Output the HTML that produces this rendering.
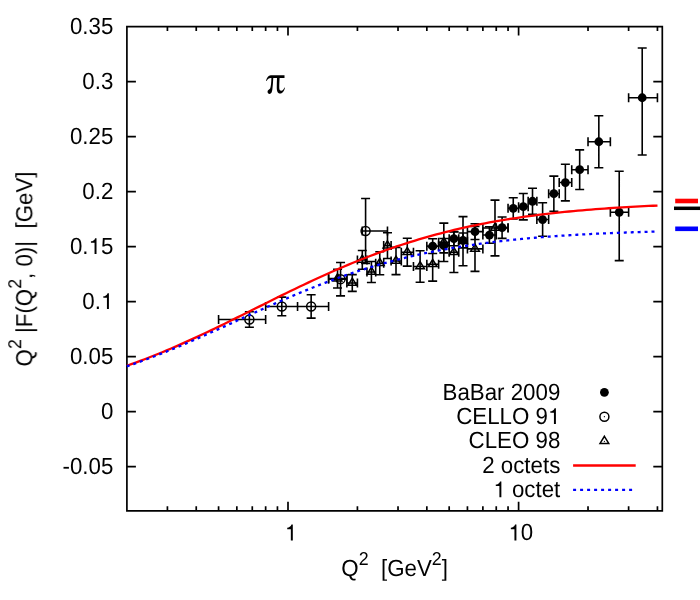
<!DOCTYPE html>
<html><head><meta charset="utf-8"><title>chart</title>
<style>html,body{margin:0;padding:0;background:#fff}svg{display:block}text{text-rendering:geometricPrecision;font-family:"Liberation Sans",sans-serif;font-size:22.3px;fill:#000}</style>
</head><body>
<svg width="700" height="600" viewBox="0 0 700 600">
<rect width="700" height="600" fill="#fff"/>
<path d="M126.9 26.6H662.3V510.85H126.9ZM126.9 466.7h9M662.3 466.7h-9M126.9 411.7h9M662.3 411.7h-9M126.9 356.7h9M662.3 356.7h-9M126.9 301.7h9M662.3 301.7h-9M126.9 246.7h9M662.3 246.7h-9M126.9 191.7h9M662.3 191.7h-9M126.9 136.7h9M662.3 136.7h-9M126.9 81.7h9M662.3 81.7h-9M167.42 510.85v-4.5M167.42 26.6v4.5M196.24 510.85v-4.5M196.24 26.6v4.5M218.58 510.85v-4.5M218.58 26.6v4.5M236.84 510.85v-4.5M236.84 26.6v4.5M252.28 510.85v-4.5M252.28 26.6v4.5M265.65 510.85v-4.5M265.65 26.6v4.5M277.45 510.85v-4.5M277.45 26.6v4.5M288 510.85v-9M288 26.6v9M357.42 510.85v-4.5M357.42 26.6v4.5M398.02 510.85v-4.5M398.02 26.6v4.5M426.84 510.85v-4.5M426.84 26.6v4.5M449.18 510.85v-4.5M449.18 26.6v4.5M467.44 510.85v-4.5M467.44 26.6v4.5M482.88 510.85v-4.5M482.88 26.6v4.5M496.25 510.85v-4.5M496.25 26.6v4.5M508.05 510.85v-4.5M508.05 26.6v4.5M518.6 510.85v-9M518.6 26.6v9M588.02 510.85v-4.5M588.02 26.6v4.5M628.62 510.85v-4.5M628.62 26.6v4.5M657.44 510.85v-4.5M657.44 26.6v4.5" fill="none" stroke="#000" stroke-width="1.7" stroke-linejoin="miter"/>
<path d="M432.67 238.78V253.52M428.17 238.78h9.0M428.17 253.52h9.0M426.84 246.15H438.63M426.84 241.65v9.0M438.63 241.65v9.0M443.83 238.56V252.86M439.33 238.56h9.0M439.33 252.86h9.0M438.63 245.71H449.18M438.63 241.21v9.0M449.18 241.21v9.0M453.88 231.52V245.82M449.38 231.52h9.0M449.38 245.82h9.0M449.18 238.67H458.73M449.18 234.17v9.0M458.73 234.17v9.0M463.01 232.95V247.91M458.51 232.95h9.0M458.51 247.91h9.0M458.73 240.43H467.44M458.73 235.93v9.0M467.44 235.93v9.0M474.99 223.82V239.44M470.49 223.82h9.0M470.49 239.44h9.0M467.44 231.63H482.88M467.44 227.13v9.0M482.88 227.13v9.0M489.39 226.79V243.29M484.89 226.79h9.0M484.89 243.29h9.0M482.88 235.04H496.25M482.88 230.54v9.0M496.25 230.54v9.0M502.09 217V238.34M497.59 217h9.0M497.59 238.34h9.0M496.25 227.67H508.05M496.25 223.17v9.0M508.05 223.17v9.0M513.25 197.75V218.87M508.75 197.75h9.0M508.75 218.87h9.0M508.05 208.31H518.6M508.05 203.81v9.0M518.6 203.81v9.0M523.3 193.46V219.86M518.8 193.46h9.0M518.8 219.86h9.0M518.6 206.66H528.15M518.6 202.16v9.0M528.15 202.16v9.0M532.51 188.29V214.25M528.01 188.29h9.0M528.01 214.25h9.0M528.15 201.27H536.86M528.15 196.77v9.0M536.86 196.77v9.0M542.62 202.81V236.25M538.12 202.81h9.0M538.12 236.25h9.0M536.86 219.53H548.65M536.86 215.03v9.0M548.65 215.03v9.0M553.86 176.08V211.28M549.36 176.08h9.0M549.36 211.28h9.0M548.65 193.68H559.21M548.65 189.18v9.0M559.21 189.18v9.0M565.36 164.31V200.83M560.86 164.31h9.0M560.86 200.83h9.0M559.21 182.57H571.74M559.21 178.07v9.0M571.74 178.07v9.0M579.67 149.9V189.5M575.17 149.9h9.0M575.17 189.5h9.0M571.74 169.7H588.02M571.74 165.2v9.0M588.02 165.2v9.0M598.83 115.8V167.72M594.33 115.8h9.0M594.33 167.72h9.0M588.02 141.76H610.36M588.02 137.26v9.0M610.36 137.26v9.0M619.22 171.24V260.67M614.72 171.24h9.0M614.72 260.67h9.0M610.36 212.27H628.62M610.36 207.77v9.0M628.62 207.77v9.0M642.21 47.93V154.96M637.71 47.93h9.0M637.71 154.96h9.0M628.62 97.76H657.44M628.62 93.26v9.0M657.44 93.26v9.0" fill="none" stroke="#000" stroke-width="1.6"/>
<circle cx="432.67" cy="246.15" r="4.4" fill="#000"/>
<circle cx="443.83" cy="245.71" r="4.4" fill="#000"/>
<circle cx="453.88" cy="238.67" r="4.4" fill="#000"/>
<circle cx="463.01" cy="240.43" r="4.4" fill="#000"/>
<circle cx="474.99" cy="231.63" r="4.4" fill="#000"/>
<circle cx="489.39" cy="235.04" r="4.4" fill="#000"/>
<circle cx="502.09" cy="227.67" r="4.4" fill="#000"/>
<circle cx="513.25" cy="208.31" r="4.4" fill="#000"/>
<circle cx="523.3" cy="206.66" r="4.4" fill="#000"/>
<circle cx="532.51" cy="201.27" r="4.4" fill="#000"/>
<circle cx="542.62" cy="219.53" r="4.4" fill="#000"/>
<circle cx="553.86" cy="193.68" r="4.4" fill="#000"/>
<circle cx="565.36" cy="182.57" r="4.4" fill="#000"/>
<circle cx="579.67" cy="169.7" r="4.4" fill="#000"/>
<circle cx="598.83" cy="141.76" r="4.4" fill="#000"/>
<circle cx="619.22" cy="212.27" r="4.4" fill="#000"/>
<circle cx="642.21" cy="97.76" r="4.4" fill="#000"/>
<path d="M249.38 311.82V327.22M244.88 311.82h9.0M244.88 327.22h9.0M218.58 319.52H265.65M218.58 315.02v9.0M265.65 315.02v9.0M281.8 297.08V315.78M277.3 297.08h9.0M277.3 315.78h9.0M265.65 306.43H297.55M265.65 301.93v9.0M297.55 301.93v9.0M311.15 294.77V318.09M306.65 294.77h9.0M306.65 318.09h9.0M297.55 306.43H328.61M297.55 301.93v9.0M328.61 301.93v9.0M340.55 262.43V295.87M336.05 262.43h9.0M336.05 295.87h9.0M328.61 279.15H346.87M328.61 274.65v9.0M346.87 274.65v9.0M365.59 198.52V263.42M361.09 198.52h9.0M361.09 263.42h9.0M362.3 230.97H387.47M362.3 226.47v9.0M387.47 226.47v9.0" fill="none" stroke="#000" stroke-width="1.6"/>
<circle cx="249.38" cy="319.52" r="4.5" fill="none" stroke="#000" stroke-width="1.5"/><circle cx="249.38" cy="319.52" r="0.65" fill="#000"/>
<circle cx="281.8" cy="306.43" r="4.5" fill="none" stroke="#000" stroke-width="1.5"/><circle cx="281.8" cy="306.43" r="0.65" fill="#000"/>
<circle cx="311.15" cy="306.43" r="4.5" fill="none" stroke="#000" stroke-width="1.5"/><circle cx="311.15" cy="306.43" r="0.65" fill="#000"/>
<circle cx="340.55" cy="279.15" r="4.5" fill="none" stroke="#000" stroke-width="1.5"/><circle cx="340.55" cy="279.15" r="0.65" fill="#000"/>
<circle cx="365.59" cy="230.97" r="4.5" fill="none" stroke="#000" stroke-width="1.5"/><circle cx="365.59" cy="230.97" r="0.65" fill="#000"/>
<path d="M337.54 269.2V288M333.04 269.2h9.0M333.04 288h9.0M328.61 278.6H346.87M328.61 274.1v9.0M346.87 274.1v9.0M352.28 274.62V291.38M347.78 274.62h9.0M347.78 291.38h9.0M346.87 283H357.42M346.87 278.5v9.0M357.42 278.5v9.0M362.3 250.5V269.3M357.8 250.5h9.0M357.8 269.3h9.0M357.42 259.9H366.96M357.42 255.4v9.0M366.96 255.4v9.0M371.41 261.56V282.44M366.91 261.56h9.0M366.91 282.44h9.0M366.96 272H375.68M366.96 267.5v9.0M375.68 267.5v9.0M379.76 251.72V274.68M375.26 251.72h9.0M375.26 274.68h9.0M375.68 263.2H383.69M375.68 258.7v9.0M383.69 258.7v9.0M387.47 232.72V258.48M382.97 232.72h9.0M382.97 258.48h9.0M383.69 245.6H391.11M383.69 241.1v9.0M391.11 241.1v9.0M396 247.39V274.61M391.5 247.39h9.0M391.5 274.61h9.0M391.11 261H401.31M391.11 256.5v9.0M401.31 256.5v9.0M407.27 238.29V266.11M402.77 238.29h9.0M402.77 266.11h9.0M401.31 252.2H413.46M401.31 247.7v9.0M413.46 247.7v9.0M420.1 250.75V282.25M415.6 250.75h9.0M415.6 282.25h9.0M413.46 266.5H426.84M413.46 262v9.0M426.84 262v9.0M432.67 247.47V281.13M428.17 247.47h9.0M428.17 281.13h9.0M426.84 264.3H438.63M426.84 259.8v9.0M438.63 259.8v9.0M443.83 223.09V261.51M439.33 223.09h9.0M439.33 261.51h9.0M438.63 242.3H449.18M438.63 237.8v9.0M449.18 237.8v9.0M453.88 231.92V272.48M449.38 231.92h9.0M449.38 272.48h9.0M449.18 252.2H458.73M449.18 247.7v9.0M458.73 247.7v9.0M463.01 216.6V265.8M458.51 216.6h9.0M458.51 265.8h9.0M458.73 241.2H467.44M458.73 236.7v9.0M467.44 236.7v9.0M474.99 226.46V271.34M470.49 226.46h9.0M470.49 271.34h9.0M467.44 248.9H482.88M467.44 244.4v9.0M482.88 244.4v9.0M494.99 200.15V255.85M490.49 200.15h9.0M490.49 255.85h9.0M482.88 228H508.05M482.88 223.5v9.0M508.05 223.5v9.0" fill="none" stroke="#000" stroke-width="1.6"/>
<path d="M337.54 273.8L341.89 280.9H333.19Z" fill="none" stroke="#000" stroke-width="1.5" stroke-linejoin="miter"/><circle cx="337.54" cy="278.8" r="0.65" fill="#000"/>
<path d="M352.28 278.2L356.63 285.3H347.93Z" fill="none" stroke="#000" stroke-width="1.5" stroke-linejoin="miter"/><circle cx="352.28" cy="283.2" r="0.65" fill="#000"/>
<path d="M362.3 255.1L366.65 262.2H357.95Z" fill="none" stroke="#000" stroke-width="1.5" stroke-linejoin="miter"/><circle cx="362.3" cy="260.1" r="0.65" fill="#000"/>
<path d="M371.41 267.2L375.76 274.3H367.06Z" fill="none" stroke="#000" stroke-width="1.5" stroke-linejoin="miter"/><circle cx="371.41" cy="272.2" r="0.65" fill="#000"/>
<path d="M379.76 258.4L384.11 265.5H375.41Z" fill="none" stroke="#000" stroke-width="1.5" stroke-linejoin="miter"/><circle cx="379.76" cy="263.4" r="0.65" fill="#000"/>
<path d="M387.47 240.8L391.82 247.9H383.12Z" fill="none" stroke="#000" stroke-width="1.5" stroke-linejoin="miter"/><circle cx="387.47" cy="245.8" r="0.65" fill="#000"/>
<path d="M396 256.2L400.35 263.3H391.65Z" fill="none" stroke="#000" stroke-width="1.5" stroke-linejoin="miter"/><circle cx="396" cy="261.2" r="0.65" fill="#000"/>
<path d="M407.27 247.4L411.62 254.5H402.92Z" fill="none" stroke="#000" stroke-width="1.5" stroke-linejoin="miter"/><circle cx="407.27" cy="252.4" r="0.65" fill="#000"/>
<path d="M420.1 261.7L424.45 268.8H415.75Z" fill="none" stroke="#000" stroke-width="1.5" stroke-linejoin="miter"/><circle cx="420.1" cy="266.7" r="0.65" fill="#000"/>
<path d="M432.67 259.5L437.02 266.6H428.32Z" fill="none" stroke="#000" stroke-width="1.5" stroke-linejoin="miter"/><circle cx="432.67" cy="264.5" r="0.65" fill="#000"/>
<path d="M443.83 237.5L448.18 244.6H439.48Z" fill="none" stroke="#000" stroke-width="1.5" stroke-linejoin="miter"/><circle cx="443.83" cy="242.5" r="0.65" fill="#000"/>
<path d="M453.88 247.4L458.23 254.5H449.53Z" fill="none" stroke="#000" stroke-width="1.5" stroke-linejoin="miter"/><circle cx="453.88" cy="252.4" r="0.65" fill="#000"/>
<path d="M463.01 236.4L467.36 243.5H458.66Z" fill="none" stroke="#000" stroke-width="1.5" stroke-linejoin="miter"/><circle cx="463.01" cy="241.4" r="0.65" fill="#000"/>
<path d="M474.99 244.1L479.34 251.2H470.64Z" fill="none" stroke="#000" stroke-width="1.5" stroke-linejoin="miter"/><circle cx="474.99" cy="249.1" r="0.65" fill="#000"/>
<path d="M494.99 223.2L499.34 230.3H490.64Z" fill="none" stroke="#000" stroke-width="1.5" stroke-linejoin="miter"/><circle cx="494.99" cy="228.2" r="0.65" fill="#000"/>
<path d="M126.9 365.73L131.32 364.17L135.74 362.56L140.17 360.92L144.59 359.24L149.01 357.53L153.43 355.79L157.85 354.01L162.27 352.2L166.69 350.35L171.12 348.47L175.54 346.57L179.96 344.63L184.38 342.67L188.8 340.67L193.23 338.66L197.65 336.62L202.07 334.55L206.49 332.46L210.91 330.36L215.33 328.23L219.75 326.09L224.18 323.94L228.6 321.77L233.02 319.59L237.44 317.4L241.86 315.2L246.29 313L250.71 310.8L255.13 308.59L259.55 306.38L263.97 304.17L268.39 301.97L272.81 299.77L277.24 297.58L281.66 295.4L286.08 293.24L290.5 291.08L294.92 288.94L299.35 286.81L303.77 284.7L308.19 282.61L312.61 280.54L317.03 278.49L321.45 276.47L325.88 274.47L330.3 272.49L334.72 270.54L339.14 268.62L343.56 266.73L347.98 264.86L352.41 263.03L356.83 261.22L361.25 259.45L365.67 257.71L370.09 256L374.51 254.33L378.94 252.69L383.36 251.08L387.78 249.51L392.2 247.97L396.62 246.46L401.04 244.99L405.47 243.55L409.89 242.15L414.31 240.78L418.73 239.45L423.15 238.14L427.57 236.88L432 235.64L436.42 234.44L440.84 233.28L445.26 232.14L449.68 231.04L454.1 229.97L458.52 228.93L462.95 227.92L467.37 226.94L471.79 225.99L476.21 225.08L480.63 224.18L485.05 223.32L489.48 222.49L493.9 221.68L498.32 220.9L502.74 220.14L507.16 219.41L511.59 218.71L516.01 218.03L520.43 217.37L524.85 216.73L529.27 216.12L533.69 215.53L538.12 214.96L542.54 214.41L546.96 213.88L551.38 213.37L555.8 212.88L560.22 212.41L564.64 211.95L569.07 211.51L573.49 211.09L577.91 210.68L582.33 210.29L586.75 209.92L591.17 209.55L595.6 209.21L600.02 208.87L604.44 208.55L608.86 208.24L613.28 207.95L617.71 207.66L622.13 207.39L626.55 207.12L630.97 206.87L635.39 206.63L639.81 206.4L644.24 206.17L648.66 205.96L653.08 205.75L657.5 205.56" fill="none" stroke="#f00" stroke-width="2.3"/>
<path d="M126.9 366.33L128.22 365.88L129.54 365.43L130.86 364.97L132.18 364.51L133.5 364.05L134.82 363.58L136.14 363.11L137.46 362.64L138.78 362.16L140.1 361.69L141.42 361.21L142.74 360.72L144.06 360.24L145.38 359.75L146.7 359.26L148.02 358.76L149.34 358.26L150.66 357.76L151.98 357.26L153.31 356.76L154.63 356.25L155.95 355.74L157.27 355.22L158.59 354.71L159.91 354.19L161.23 353.67L162.55 353.15L163.87 352.62L165.19 352.09L166.51 351.56L167.83 351.03L169.15 350.49L170.47 349.95L171.79 349.41L173.11 348.87L174.43 348.32L175.75 347.78L177.07 347.23L178.39 346.68L179.71 346.12L181.03 345.57L182.35 345.01L183.67 344.45L184.99 343.89L186.31 343.32L187.63 342.76L188.95 342.19L190.27 341.62L191.59 341.05L192.91 340.48L194.23 339.91L195.55 339.33L196.87 338.75L198.19 338.17L199.51 337.59L200.83 337.01L202.15 336.43L203.47 335.84L204.79 335.26L206.12 334.67L207.44 334.08L208.76 333.49L210.08 332.9L211.4 332.31L212.72 331.72L214.04 331.12L215.36 330.53L216.68 329.93L218 329.34L219.32 328.74L220.64 328.14L221.96 327.54L223.28 326.94L224.6 326.34L225.92 325.74L227.24 325.14L228.56 324.54L229.88 323.94L231.2 323.34L232.52 322.73L233.84 322.13L235.16 321.53L236.48 320.93L237.8 320.32L239.12 319.72L240.44 319.12L241.76 318.51L243.08 317.91L244.4 317.31L245.72 316.71L247.04 316.11L248.36 315.5L249.68 314.9L251 314.3L252.32 313.7L253.64 313.1L254.96 312.5L256.28 311.91L257.6 311.31L258.93 310.71L260.25 310.11L261.57 309.52L262.89 308.93L264.21 308.33L265.53 307.74L266.85 307.15L268.17 306.56L269.49 305.97L270.81 305.38L272.13 304.8L273.45 304.21L274.77 303.63L276.09 303.05L277.41 302.46L278.73 301.89L280.05 301.31L281.37 300.73L282.69 300.16L284.01 299.58L285.33 299.01L286.65 298.44L287.97 297.87L289.29 297.31L290.61 296.74L291.93 296.18L293.25 295.62L294.57 295.06L295.89 294.51L297.21 293.95L298.53 293.4L299.85 292.85L301.17 292.3L302.49 291.76L303.81 291.22L305.13 290.67L306.45 290.14L307.77 289.6L309.09 289.06L310.41 288.53L311.74 288L313.06 287.48L314.38 286.95L315.7 286.43L317.02 285.91L318.34 285.4L319.66 284.88L320.98 284.37L322.3 283.86L323.62 283.35L324.94 282.85L326.26 282.35L327.58 281.85L328.9 281.36L330.22 280.86L331.54 280.37L332.86 279.89L334.18 279.4L335.5 278.92L336.82 278.44L338.14 277.97L339.46 277.5L340.78 277.03L342.1 276.56L343.42 276.09L344.74 275.63L346.06 275.18L347.38 274.72L348.7 274.27L350.02 273.82L351.34 273.37L352.66 272.93L353.98 272.49L355.3 272.05L356.62 271.62L357.94 271.19L359.26 270.76L360.58 270.33L361.9 269.91L363.22 269.49L364.55 269.08L365.87 268.67L367.19 268.26L368.51 267.85L369.83 267.45L371.15 267.04L372.47 266.65L373.79 266.25L375.11 265.86L376.43 265.47L377.75 265.09L379.07 264.71L380.39 264.33L381.71 263.95L383.03 263.58L384.35 263.21L385.67 262.84L386.99 262.48L388.31 262.12L389.63 261.76L390.95 261.4L392.27 261.05L393.59 260.7L394.91 260.36L396.23 260.01L397.55 259.67L398.87 259.34L400.19 259L401.51 258.67L402.83 258.34L404.15 258.02L405.47 257.69L406.79 257.37L408.11 257.06L409.43 256.74L410.75 256.43L412.07 256.12L413.39 255.82L414.71 255.52L416.03 255.22L417.36 254.92L418.68 254.63L420 254.34L421.32 254.05L422.64 253.76L423.96 253.48L425.28 253.2L426.6 252.92L427.92 252.64L429.24 252.37L430.56 252.1L431.88 251.84L433.2 251.57L434.52 251.31L435.84 251.05L437.16 250.79L438.48 250.54L439.8 250.29L441.12 250.04L442.44 249.79L443.76 249.55L445.08 249.31L446.4 249.07L447.72 248.83L449.04 248.6L450.36 248.36L451.68 248.14L453 247.91L454.32 247.68L455.64 247.46L456.96 247.24L458.28 247.02L459.6 246.81L460.92 246.59L462.24 246.38L463.56 246.17L464.88 245.97L466.2 245.76L467.52 245.56L468.84 245.36L470.16 245.16L471.49 244.97L472.81 244.77L474.13 244.58L475.45 244.39L476.77 244.21L478.09 244.02L479.41 243.84L480.73 243.66L482.05 243.48L483.37 243.3L484.69 243.12L486.01 242.95L487.33 242.78L488.65 242.61L489.97 242.44L491.29 242.28L492.61 242.11L493.93 241.95L495.25 241.79L496.57 241.63L497.89 241.47L499.21 241.32L500.53 241.17L501.85 241.02L503.17 240.87L504.49 240.72L505.81 240.57L507.13 240.43L508.45 240.28L509.77 240.14L511.09 240L512.41 239.86L513.73 239.73L515.05 239.59L516.37 239.46L517.69 239.33L519.01 239.2L520.33 239.07L521.65 238.94L522.98 238.81L524.3 238.69L525.62 238.57L526.94 238.45L528.26 238.33L529.58 238.21L530.9 238.09L532.22 237.97L533.54 237.86L534.86 237.75L536.18 237.63L537.5 237.52L538.82 237.41L540.14 237.31L541.46 237.2L542.78 237.09L544.1 236.99L545.42 236.89L546.74 236.79L548.06 236.69L549.38 236.59L550.7 236.49L552.02 236.39L553.34 236.3L554.66 236.2L555.98 236.11L557.3 236.02L558.62 235.92L559.94 235.83L561.26 235.74L562.58 235.66L563.9 235.57L565.22 235.48L566.54 235.4L567.86 235.32L569.18 235.23L570.5 235.15L571.82 235.07L573.14 234.99L574.46 234.91L575.78 234.83L577.11 234.76L578.43 234.68L579.75 234.61L581.07 234.53L582.39 234.46L583.71 234.39L585.03 234.32L586.35 234.25L587.67 234.18L588.99 234.11L590.31 234.04L591.63 233.97L592.95 233.91L594.27 233.84L595.59 233.78L596.91 233.71L598.23 233.65L599.55 233.59L600.87 233.53L602.19 233.47L603.51 233.41L604.83 233.35L606.15 233.29L607.47 233.23L608.79 233.17L610.11 233.12L611.43 233.06L612.75 233.01L614.07 232.95L615.39 232.9L616.71 232.85L618.03 232.79L619.35 232.74L620.67 232.69L621.99 232.64L623.31 232.59L624.63 232.54L625.95 232.49L627.27 232.45L628.6 232.4L629.92 232.35L631.24 232.31L632.56 232.26L633.88 232.22L635.2 232.17L636.52 232.13L637.84 232.08L639.16 232.04L640.48 232L641.8 231.96L643.12 231.92L644.44 231.88L645.76 231.84L647.08 231.8L648.4 231.76L649.72 231.72L651.04 231.68L652.36 231.64L653.68 231.61L655 231.57" fill="none" stroke="#00f" stroke-width="2.3" stroke-dasharray="3 3.93" stroke-dashoffset="0.2"/>
<path d="M675.2 201H698" stroke="#f00" stroke-width="4.6"/>
<path d="M674 208.3H700" stroke="#000" stroke-width="3.5"/>
<path d="M675.2 228.8H698" stroke="#00f" stroke-width="4.6"/>
<circle cx="604.4" cy="392.3" r="4.4" fill="#000"/>
<circle cx="604.4" cy="416.7" r="4.5" fill="none" stroke="#000" stroke-width="1.5"/><circle cx="604.4" cy="416.7" r="0.65" fill="#000"/>
<path d="M604.4 436.3L608.75 443.4H600.05Z" fill="none" stroke="#000" stroke-width="1.5" stroke-linejoin="miter"/><circle cx="604.4" cy="441.3" r="0.65" fill="#000"/>
<path d="M573.1 465.5H635.7" stroke="#f00" stroke-width="2.3"/>
<path d="M573.1 489.9H633" stroke="#00f" stroke-width="2.3" stroke-dasharray="3 4"/>
<path d="M555.91 424L553.94 424L553.94 412.74L550.33 412.74L550.33 411.33C552.14 411.18 553.81 410.4 554.59 408.19L555.91 408.19Z" fill="#000"/>
<path d="M501.36 497.2L499.4 497.2L499.4 485.94L495.79 485.94L495.79 484.53C497.59 484.38 499.26 483.6 500.05 481.39L501.36 481.39Z" fill="#000"/>
<path d="M108.91 309L106.94 309L106.94 297.74L103.33 297.74L103.33 296.33C105.14 296.18 106.81 295.4 107.59 293.19L108.91 293.19Z" fill="#000"/>
<path d="M96.51 254L94.55 254L94.55 242.74L90.93 242.74L90.93 241.33C92.74 241.18 94.41 240.4 95.19 238.19L96.51 238.19Z" fill="#000"/>
<path d="M292.81 540.4L290.84 540.4L290.84 529.14L287.23 529.14L287.23 527.73C289.04 527.58 290.71 526.8 291.49 524.59L292.81 524.59Z" fill="#000"/>
<path d="M516.41 540.4L514.44 540.4L514.44 529.14L510.83 529.14L510.83 527.73C512.64 527.58 514.31 526.8 515.09 524.59L516.41 524.59Z" fill="#000"/>
<g transform="translate(260 70) scale(0.05)" fill="#000"><path d="M120 213C135 160 165 108 215 105L490 105L490 160L215 160C180 160 150 185 132 218Z"/><path d="M228 160C226 250 218 330 205 365C195 385 150 395 150 435C150 460 168 478 192 478C225 478 240 440 247 390C255 320 262 240 265 160Z"/><path d="M340 160L392 160C388 230 385 300 385 350C385 395 398 415 425 415C455 415 475 385 488 350L498 356C485 420 450 472 405 472C360 472 335 435 335 350C335 290 338 220 340 160Z"/></g>
<g opacity="0.999">
<text transform="translate(560.3 399.6) scale(1 1.05)" text-anchor="end" xml:space="preserve">BaBar 2009</text>
<text transform="translate(560.3 424) scale(1 1.05)" text-anchor="end" xml:space="preserve">CELLO 9<tspan visibility="hidden">1</tspan></text>
<text transform="translate(560.3 448.4) scale(1 1.05)" text-anchor="end" xml:space="preserve">CLEO 98</text>
<text transform="translate(560.3 472.8) scale(1 1.05)" text-anchor="end" xml:space="preserve">2 octets</text>
<text transform="translate(560.3 497.2) scale(1 1.05)" text-anchor="end" xml:space="preserve"><tspan visibility="hidden">1</tspan> octet</text>
<text transform="translate(113.3 474) scale(1 1.05)" text-anchor="end" xml:space="preserve">-0.05</text>
<text transform="translate(113.3 419) scale(1 1.05)" text-anchor="end" xml:space="preserve">0</text>
<text transform="translate(113.3 364) scale(1 1.05)" text-anchor="end" xml:space="preserve">0.05</text>
<text transform="translate(113.3 309) scale(1 1.05)" text-anchor="end" xml:space="preserve">0.<tspan visibility="hidden">1</tspan></text>
<text transform="translate(113.3 254) scale(1 1.05)" text-anchor="end" xml:space="preserve">0.<tspan visibility="hidden">1</tspan>5</text>
<text transform="translate(113.3 199) scale(1 1.05)" text-anchor="end" xml:space="preserve">0.2</text>
<text transform="translate(113.3 144) scale(1 1.05)" text-anchor="end" xml:space="preserve">0.25</text>
<text transform="translate(113.3 89) scale(1 1.05)" text-anchor="end" xml:space="preserve">0.3</text>
<text transform="translate(113.3 34) scale(1 1.05)" text-anchor="end" xml:space="preserve">0.35</text>
<text transform="translate(520.8 540.4) scale(1 1.05)" text-anchor="middle" xml:space="preserve"><tspan visibility="hidden">1</tspan>0</text>
<text transform="translate(394.6 576.2) scale(1 1.05)" text-anchor="middle" xml:space="preserve">Q<tspan font-size="17.8" dy="-10.48">2</tspan><tspan dy="10.48">  [GeV</tspan><tspan font-size="17.8" dy="-10.48">2</tspan><tspan dy="10.48">]</tspan></text>
<text transform="translate(32.6 269.03) rotate(-90) scale(1 1.05)" text-anchor="middle" xml:space="preserve">Q<tspan font-size="17.8" dy="-10.48">2</tspan><tspan dy="10.48"> |F(Q</tspan><tspan font-size="17.8" dy="-10.48">2</tspan><tspan dy="10.48">, 0)|  [GeV]</tspan></text>
</g>
</svg>
</body></html>
